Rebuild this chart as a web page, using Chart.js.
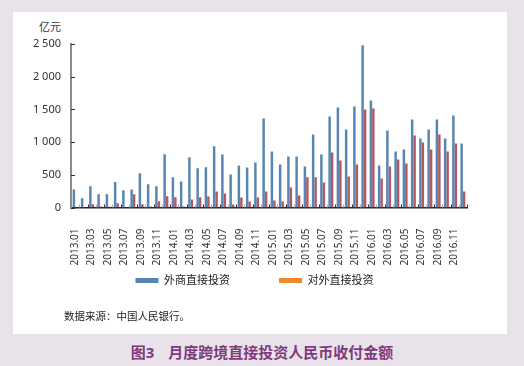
<!DOCTYPE html>
<html>
<head>
<meta charset="utf-8">
<script src="https://cdn.jsdelivr.net/npm/chart.js@4.4.0/dist/chart.umd.min.js"></script>
<style>
  html, body { margin: 0; padding: 0; }
  body {
    width: 524px; height: 366px; background: #e9e2ea; position: relative; overflow: hidden;
    font-family: 'Noto Sans', 'Noto Sans CJK SC', sans-serif;
  }
  #panel { position: absolute; left: 13px; top: 12px; width: 494px; height: 322px; background: #fff; }
  #wrap { position: absolute; left: 0; top: 0; width: 494px; height: 300px; }
  #unit { position: absolute; left: 26px; top: 8px; font-size: 11px; line-height: 14px; color: #333; }
  #source { position: absolute; left: 51px; top: 297px; font-size: 10.5px; line-height: 14px; color: #222; }
  #caption {
    position: absolute; left: 0; top: 343px; width: 524px; text-align: center;
    font-size: 15px; line-height: 18px; font-weight: bold; color: #7e3b7c;
  }
  #caption span { margin-right: 14px; }
</style>
</head>
<body>
<div id="panel">
  <div id="unit">亿元</div>
  <div id="wrap"><canvas id="graphique" width="494" height="300"></canvas></div>
  <div id="source">数据来源：中国人民银行。</div>
</div>
<div id="caption"><span>图3</span>月度跨境直接投资人民币收付金额</div>

<script>
// mois de 2013.01 a 2016.12
const mois = [
  '2013.01','2013.02','2013.03','2013.04','2013.05','2013.06','2013.07','2013.08','2013.09','2013.10','2013.11','2013.12',
  '2014.01','2014.02','2014.03','2014.04','2014.05','2014.06','2014.07','2014.08','2014.09','2014.10','2014.11','2014.12',
  '2015.01','2015.02','2015.03','2015.04','2015.05','2015.06','2015.07','2015.08','2015.09','2015.10','2015.11','2015.12',
  '2016.01','2016.02','2016.03','2016.04','2016.05','2016.06','2016.07','2016.08','2016.09','2016.10','2016.11','2016.12'
];

// 外商直接投资 (亿元)
const waishang = [
  275, 142, 326, 204, 204, 388, 265, 275, 525, 357, 326, 816,
  464, 398, 770, 602, 615, 935, 811, 505, 643, 612, 689, 1362,
  857, 658, 781, 781, 627, 1117, 811, 1392, 1530, 1193, 1545, 2479,
  1637, 643, 1178, 857, 888, 1346, 1056, 1193, 1346, 1056, 1408, 980
];

// 对外直接投资 (亿元)
const duiwai = [
  5, 5, 50, 15, 10, 66, 5, 204, 50, 15, 97, 173,
  158, 15, 122, 158, 170, 245, 214, 46, 153, 92, 153, 245,
  107, 92, 306, 184, 464, 464, 383, 842, 719, 474, 658, 1500,
  1515, 444, 627, 735, 673, 1102, 995, 888, 1117, 857, 980, 245
];

const yTicks = [0, 500, 1000, 1500, 2000, 2500];
const yTickLabels = ['0', '500', '1 000', '1 500', '2 000', '2 500'];

Chart.defaults.font.family = "'Noto Sans', 'Noto Sans CJK SC', sans-serif";
Chart.defaults.color = '#333';

// petites graduations vers l'interieur, comme sur l'original
const graduations = {
  id: 'graduations',
  afterDraw(chart) {
    const { ctx, chartArea, scales: { x, y } } = chart;
    ctx.save();
    ctx.lineWidth = 1;
    ctx.strokeStyle = '#333';
    y.ticks.forEach((t, i) => {
      const py = Math.round(y.getPixelForTick(i)) + 0.5;
      ctx.beginPath();
      ctx.moveTo(chartArea.left, py);
      ctx.lineTo(chartArea.left + 4, py);
      ctx.stroke();
    });
    for (let i = 1; i <= mois.length; i++) {
      const px = Math.round(x.getPixelForValue(i - 0.5)) + 0.5;
      ctx.strokeStyle = i % 2 === 0 ? '#333' : '#aaa';
      ctx.beginPath();
      ctx.moveTo(px, chartArea.bottom);
      ctx.lineTo(px, chartArea.bottom - 3);
      ctx.stroke();
    }
    ctx.restore();
  }
};

const couleursLegende = ['#5585b5', '#f0892e'];

const ctx = document.getElementById('graphique').getContext('2d');
new Chart(ctx, {
  type: 'bar',
  data: {
    labels: mois,
    datasets: [
      { label: '外商直接投资', data: waishang, backgroundColor: '#5886b0', categoryPercentage: 0.6, barPercentage: 1.0 },
      { label: '对外直接投资', data: duiwai, backgroundColor: '#b25862', categoryPercentage: 0.6, barPercentage: 1.0 }
    ]
  },
  options: {
    responsive: false,
    animation: false,
    layout: { padding: { top: 32, right: 0, left: 0, bottom: 16 } },
    plugins: {
      tooltip: { enabled: false },
      legend: {
        position: 'bottom',
        labels: {
          boxWidth: 23,
          boxHeight: 5,
          padding: 7.5,
          color: '#222',
          font: { size: 11 },
          generateLabels(chart) {
            const items = Chart.defaults.plugins.legend.labels.generateLabels(chart);
            items.forEach((it, i) => {
              it.fillStyle = couleursLegende[i];
              it.strokeStyle = couleursLegende[i];
              it.lineWidth = 0;
              // espace entre les deux entrees de la legende
              it.text += i === 0 ? '\u3000\u3000\u3000   ' : '\u3000';
            });
            return items;
          }
        }
      }
    },
    scales: {
      x: {
        grid: { display: false, drawTicks: false },
        border: { display: true, color: '#222', width: 1.5 },
        ticks: {
          autoSkip: false,
          minRotation: 90,
          maxRotation: 90,
          padding: 21,
          color: '#333',
          font: { size: 10 },
          callback: (v, i) => (i % 2 === 0 ? mois[i] : '')
        },
        afterFit(scale) { scale.height = 60; }
      },
      y: {
        min: 0,
        max: 2500,
        grid: { display: false, drawTicks: false },
        border: { display: true, color: '#8c8c8c', width: 2 },
        afterBuildTicks(scale) { scale.ticks = yTicks.map(v => ({ value: v })); },
        ticks: {
          padding: 10,
          color: '#333',
          font: { size: 11 },
          callback: (v, i) => yTickLabels[i]
        },
        afterFit(scale) { scale.width = 58; }
      },
      // axe vide a droite, seulement pour la marge
      marge: {
        position: 'right',
        grid: { display: false, drawTicks: false },
        border: { display: false },
        ticks: { display: false },
        afterFit(scale) { scale.width = 40; }
      }
    }
  },
  plugins: [graduations]
});
</script>
</body>
</html>
